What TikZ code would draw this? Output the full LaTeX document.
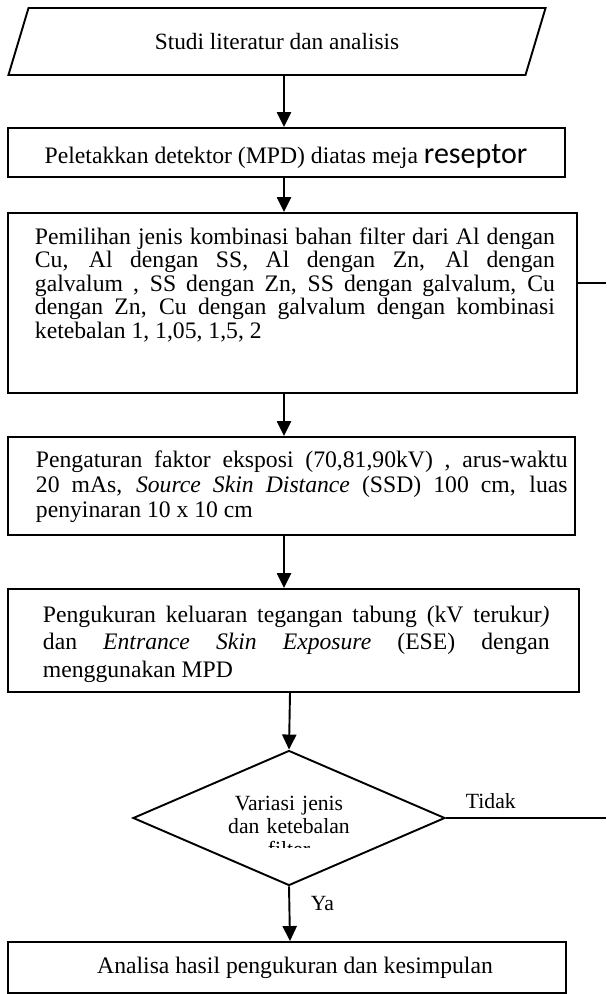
\documentclass[tikz,border=0pt]{standalone}
\usepackage{fontspec}
\setmainfont{Liberation Serif}
\newfontfamily\reseptorfont{Carlito}
\usetikzlibrary{shapes.geometric,arrows.meta,fit,calc}

\begin{document}
\begin{tikzpicture}[x=0.6pt, y=-0.6pt, line width=1.15pt,
    flowbox/.style={draw, rectangle, inner sep=0pt},
    boxtext/.style={anchor=base west, inner sep=0pt, align=justify, font=\fontsize{14.2}{14.2}\selectfont},
    lbl/.style={anchor=base west, inner sep=0pt, font=\fontsize{13}{14}\selectfont},
    flowarrow/.style={-{Triangle[width=8.5pt,length=9pt]}}]

    \useasboundingbox (0,0) rectangle (606,994);

    % arrow columns and right edge
    \coordinate (col1) at (284,0);
    \coordinate (col2) at (290,0);
    \coordinate (edge1) at (606,283);
    \coordinate (edge2) at (606,818);

    % start
    \node[draw, trapezium, trapezium left angle=59, trapezium right angle=121,
          trapezium stretches=true, minimum width=322.8pt, minimum height=40.2pt,
          inner sep=0pt, font=\fontsize{14}{14}\selectfont] (studi) at (277,41.5)
        {Studi literatur dan analisis};

    % boxes
    \node[flowbox, fit={(8,128) (565,177)}] (letak) {};
    \node[flowbox, fit={(8,213) (577,393)}] (pilih) {};
    \node[flowbox, fit={(8,437) (575,535)}] (atur) {};
    \node[flowbox, fit={(8,589) (579,692)}] (ukur) {};
    \node[draw, diamond, inner sep=0pt, minimum width=187.2pt, minimum height=81pt] (variasi) at (289,818) {};
    \node[flowbox, fit={(8,942) (566,993)}] (analisa) {};

    % box texts
    \begin{scope}
        \clip (9,129) rectangle (564,167);
        \node[anchor=base, inner sep=0pt, font=\fontsize{14.2}{14.2}\selectfont] (letaktxt) at (286,163)
            {Peletakkan detektor (MPD) diatas meja {\reseptorfont\fontsize{18}{18}\selectfont reseptor}};
    \end{scope}

    \node[boxtext, text width=312pt, font=\fontsize{14.2}{14.1}\selectfont] (pilihtxt) at (34,244)
        {Pemilihan jenis kombinasi bahan filter dari Al dengan\linebreak
         Cu, Al dengan SS, Al dengan Zn, Al dengan\linebreak
         galvalum , SS dengan Zn, SS dengan galvalum, Cu\linebreak
         dengan Zn, Cu dengan galvalum dengan kombinasi\linebreak
         ketebalan 1, 1,05, 1,5, 2};

    \node[boxtext, text width=319pt, font=\fontsize{14.2}{15}\selectfont] (aturtxt) at (35,467)
        {Pengaturan faktor eksposi (70,81,90kV) , arus-waktu\linebreak
         20 mAs, \textit{Source Skin Distance} (SSD) 100 cm, luas\linebreak
         penyinaran 10 x 10 cm};

    \node[boxtext, text width=304pt, font=\fontsize{14.2}{16.5}\selectfont] (ukurtxt) at (42,622)
        {Pengukuran keluaran tegangan tabung (kV terukur\textit{)}\linebreak
         dan \textit{Entrance Skin Exposure} (ESE) dengan\linebreak
         menggunakan MPD};

    \begin{scope}
        \clip (160,780) rectangle (420,847);
        \node[anchor=base, inner sep=0pt, text width=100pt, align=center,
              font=\fontsize{13}{13.8}\selectfont] (variasitxt) at (289,810)
            {Variasi jenis\\dan ketebalan\\filter};
    \end{scope}

    \node[anchor=base, inner sep=0pt, font=\fontsize{14.2}{14.2}\selectfont] (analisatxt) at (295,973)
        {Analisa hasil pengukuran dan kesimpulan};

    % labels
    \node[lbl] (tidak) at (465,808) {Tidak};
    \node[lbl] (ya) at (310,910) {Ya};

    % connectors
    \draw[flowarrow] (col1 |- studi.south) -- (col1 |- letak.north);
    \draw[flowarrow] (col1 |- letak.south) -- (col1 |- pilih.north);
    \draw[flowarrow] (col1 |- pilih.south) -- (col1 |- atur.north);
    \draw[flowarrow] (col1 |- atur.south) -- (col1 |- ukur.north);
    \draw[flowarrow] (col2 |- ukur.south) -- (variasi.north);
    \draw[flowarrow] (variasi.south) -- (col2 |- analisa.north);
    \draw (pilih.east |- edge1) -- (edge1);
    \draw (variasi.east) -- (edge2);
\end{tikzpicture}
\end{document}
